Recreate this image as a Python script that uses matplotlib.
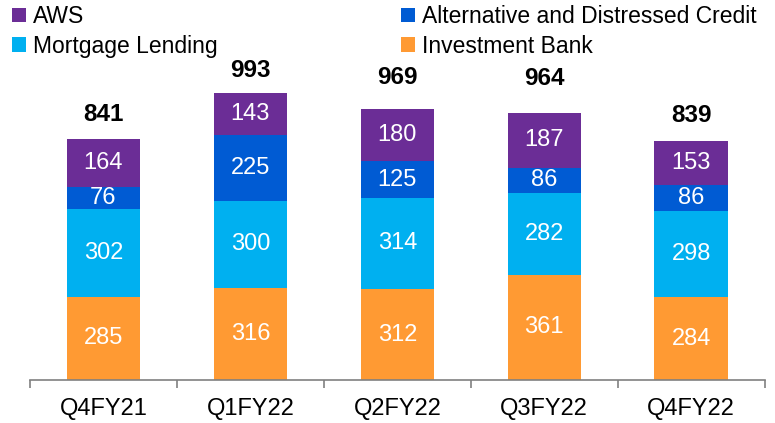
import numpy as np
import matplotlib.pyplot as plt

# Quarterly values by segment
quarters = ["Q4FY21", "Q1FY22", "Q2FY22", "Q3FY22", "Q4FY22"]
investment_bank = [285, 316, 312, 361, 284]
mortgage_lending = [302, 300, 314, 282, 298]
alt_distressed = [76, 225, 125, 86, 86]
aws = [164, 143, 180, 187, 153]
totals = [841, 993, 969, 964, 839]

names = ["Investment Bank", "Mortgage Lending", "Alternative and Distressed Credit", "AWS"]
colors = ["#FF9A33", "#00B0F0", "#005BD3", "#6B2D96"]

plt.rcParams["font.family"] = ["Liberation Sans", "DejaVu Sans"]

fig = plt.figure(figsize=(7.75, 4.23), dpi=100)
ax = fig.add_axes([0.0387, 0.1017, 0.948, 0.7565])

x = np.arange(len(quarters))
bottom = np.zeros(len(quarters))
bars = {}
for name, vals, col in zip(names, [investment_bank, mortgage_lending, alt_distressed, aws], colors):
    vals = np.array(vals)
    bars[name] = ax.bar(x, vals, 0.5, bottom=bottom, color=col, label=name)
    for xi, b, v in zip(x, bottom, vals):
        ax.text(xi, b + v / 2, str(v), ha="center", va="center", color="white", fontsize=17)
    bottom = bottom + vals

for xi, t in zip(x, totals):
    ax.text(xi, t + 70, str(t), ha="center", va="center", fontsize=17.5, fontweight="bold")

ax.set_xlim(-0.5, len(quarters) - 0.5)
ax.set_ylim(0, 1099)
ax.set_yticks([])
for s in ["top", "right", "left"]:
    ax.spines[s].set_visible(False)
ax.spines["bottom"].set_color("#808080")
ax.spines["bottom"].set_linewidth(1.2)

ax.set_xticks(x)
ax.set_xticklabels(quarters, fontsize=17)
ax.tick_params(axis="x", which="major", length=0, pad=13)
ax.set_xticks(np.arange(len(quarters) + 1) - 0.5, minor=True)
ax.tick_params(axis="x", which="minor", length=6, color="#808080", width=1.2)

# legend in two columns at the top
leg_kw = dict(frameon=False, fontsize=16.5, handlelength=0.6, handleheight=0.6,
              handletextpad=0.3, labelspacing=0.3, borderaxespad=0)
fig.legend([bars["AWS"], bars["Mortgage Lending"]], ["AWS", "Mortgage Lending"],
           loc="upper left", bbox_to_anchor=(0.004, 1.01), **leg_kw)
fig.legend([bars["Alternative and Distressed Credit"], bars["Investment Bank"]],
           ["Alternative and Distressed Credit", "Investment Bank"],
           loc="upper left", bbox_to_anchor=(0.506, 1.01), **leg_kw)

fig.savefig("out.png", dpi=100)
